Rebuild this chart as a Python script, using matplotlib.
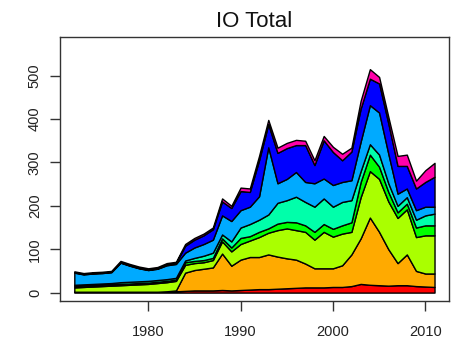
import matplotlib.pyplot as plt
import numpy as np

plt.rcParams['font.family'] = ['Liberation Sans', 'DejaVu Sans']

years = np.arange(1972, 2012)

# layer values, bottom to top
red = [2, 2, 2, 2, 2, 2, 2, 2, 2, 2, 3, 3, 4, 5, 5, 5, 6, 5, 6, 7,
       8, 8, 9, 10, 11, 12, 12, 12, 13, 13, 15, 20, 18, 17, 16, 17, 17, 15, 14, 13]
orange = [0, 0, 0, 0, 0, 0, 0, 0, 0, 0, 0, 2, 42, 47, 50, 53, 84, 57, 70, 75,
          74, 80, 74, 69, 65, 55, 44, 44, 43, 50, 73, 105, 155, 123, 84, 51, 71, 35, 30, 31]
yellowgreen = [10, 11, 12, 13, 14, 15, 16, 17, 18, 20, 21, 22, 18, 16, 15, 17, 28, 33, 36, 38,
               46, 50, 61, 69, 68, 73, 66, 84, 73, 73, 52, 95, 107, 122, 110, 104, 104, 78, 88, 88]
green = [3, 3, 3, 3, 3, 3, 3, 3, 3, 3, 3, 3, 6, 5, 5, 5, 7, 9, 14, 10,
         12, 10, 15, 15, 18, 15, 18, 18, 18, 19, 22, 35, 38, 28, 22, 13, 13, 22, 23, 23]
aqua = [3, 3, 3, 3, 3, 4, 4, 4, 4, 4, 4, 4, 4, 7, 10, 12, 9, 14, 24, 28,
        28, 32, 48, 50, 59, 54, 58, 59, 51, 54, 51, 25, 24, 28, 20, 15, 15, 18, 23, 27]
skyblue = [28, 23, 24, 24, 25, 45, 37, 30, 25, 26, 32, 32, 18, 24, 27, 30, 44, 47, 40, 40,
           54, 155, 45, 49, 57, 46, 54, 46, 50, 46, 46, 68, 90, 97, 68, 28, 20, 22, 20, 16]
blue = [1, 1, 1, 1, 1, 1, 1, 1, 1, 1, 2, 2, 16, 18, 20, 24, 32, 30, 44, 34,
        83, 53, 70, 71, 62, 85, 42, 88, 76, 50, 66, 76, 61, 67, 70, 64, 52, 50, 57, 69]
pink = [2, 2, 2, 2, 2, 3, 3, 3, 3, 3, 3, 3, 4, 4, 4, 4, 7, 5, 8, 8,
        10, 10, 12, 12, 12, 10, 11, 10, 12, 15, 9, 18, 22, 15, 15, 23, 26, 18, 27, 32]

colors = ['#FF0000', '#FFAA00', '#AAFF00', '#00FF00',
          '#00FFAA', '#00AAFF', '#0000FF', '#FF00AA']

fig = plt.figure(figsize=(4.58, 3.41), dpi=100)
ax = fig.add_axes([0.131, 0.117, 0.849, 0.774])

ax.stackplot(years, red, orange, yellowgreen, green, aqua, skyblue, blue, pink,
             colors=colors, edgecolor='black', linewidth=1.0)

ax.set_xlim(1970.45, 2012.55)
ax.set_ylim(-19.6, 588.7)
ax.set_xticks([1980, 1990, 2000, 2010])
ax.set_yticks([0, 100, 200, 300, 400, 500])

for s in ax.spines.values():
    s.set_color('#333333')
    s.set_linewidth(1.0)

ax.tick_params(direction='out', length=7, width=1, color='#333333',
               labelsize=10.5, labelcolor='#222222')
ax.tick_params(axis='x', pad=10)
ax.tick_params(axis='y', pad=6, labelrotation=90)
for lab in ax.get_yticklabels():
    lab.set_va('center')

ax.set_title('IO Total', fontsize=16, pad=7, color='#111111')

fig.savefig('out.png', dpi=100)
